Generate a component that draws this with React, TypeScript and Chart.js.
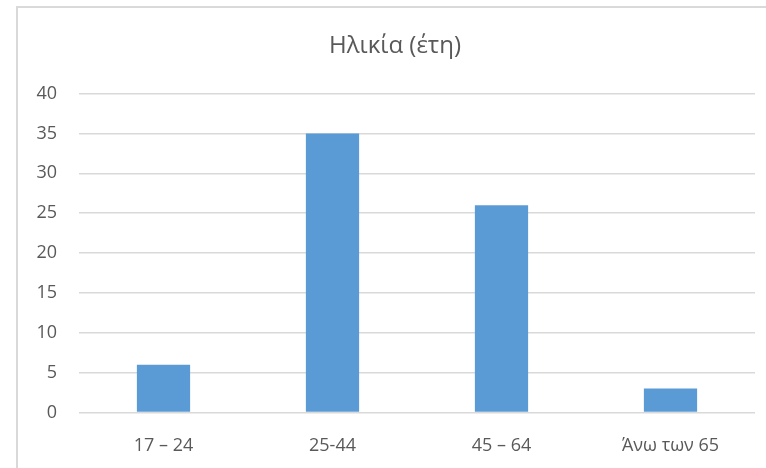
import React, { useEffect, useRef } from "react";
import { Chart, registerables } from "chart.js";

Chart.register(...registerables);

const categories = ["17 – 24", "25-44", "45 – 64", "Άνω των 65"];
const values = [6, 35, 26, 3];
const titleText = "Ηλικία (έτη)";
const yMin = 0;
const yMax = 40;
const yStep = 5;

const FONT = "'Open Sans', 'Noto Sans', sans-serif";
const TEXT = "#595959";
const GRID = "#d9d9d9";
const BAR = "#5b9bd5";

const titlePlugin = {
  id: "boxTitle",
  afterDraw(chart: any) {
    const ctx = chart.ctx;
    ctx.save();
    ctx.font = `normal 24px ${FONT}`;
    ctx.fillStyle = TEXT;
    ctx.textAlign = "center";
    ctx.textBaseline = "middle";
    ctx.fillText(titleText, 395, 46);
    ctx.restore();
  },
};

export default function App() {
  const ref = useRef<HTMLCanvasElement | null>(null);
  useEffect(() => {
    if (!ref.current) return;
    const chart = new Chart(ref.current, {
      type: "bar",
      data: {
        labels: categories,
        datasets: [
          {
            data: values,
            backgroundColor: BAR,
            borderWidth: 0,
            barPercentage: 0.315,
            categoryPercentage: 1,
          },
        ],
      },
      plugins: [titlePlugin],
      options: {
        animation: false,
        responsive: false,
        maintainAspectRatio: false,
        layout: { padding: { left: 0, right: 11, top: 0, bottom: 0 } },
        plugins: {
          legend: { display: false },
          tooltip: { enabled: false },
          title: {
            display: true,
            text: titleText,
            color: "rgba(0,0,0,0)",
            font: { family: FONT, size: 23, weight: "normal" },
            padding: { top: 30, bottom: 36 },
          },
        },
        scales: {
          x: {
            grid: { display: false },
            border: { display: false },
            ticks: {
              color: TEXT,
              font: { family: FONT, size: 18 },
              padding: 15,
              maxRotation: 0,
            },
            afterFit: (s: any) => {
              s.height = 55.5;
            },
          },
          y: {
            min: yMin,
            max: yMax,
            ticks: {
              stepSize: yStep,
              color: TEXT,
              font: { family: FONT, size: 18 },
              padding: 22,
            },
            grid: { color: GRID, lineWidth: 1.5, drawTicks: false },
            border: { display: false },
            afterFit: (s: any) => {
              s.width = 79;
            },
          },
        },
      },
    });
    return () => chart.destroy();
  }, []);
  return (
    <div>
      <div
        style={{
          position: "fixed",
          left: 16,
          top: 6,
          width: 800,
          height: 500,
          border: "2px solid #d9d9d9",
          boxSizing: "border-box",
        }}
      />
      <canvas
        ref={ref}
        width={766}
        height={468}
        style={{ position: "fixed", left: 0, top: 0, width: 766, height: 468 }}
      />
    </div>
  );
}
